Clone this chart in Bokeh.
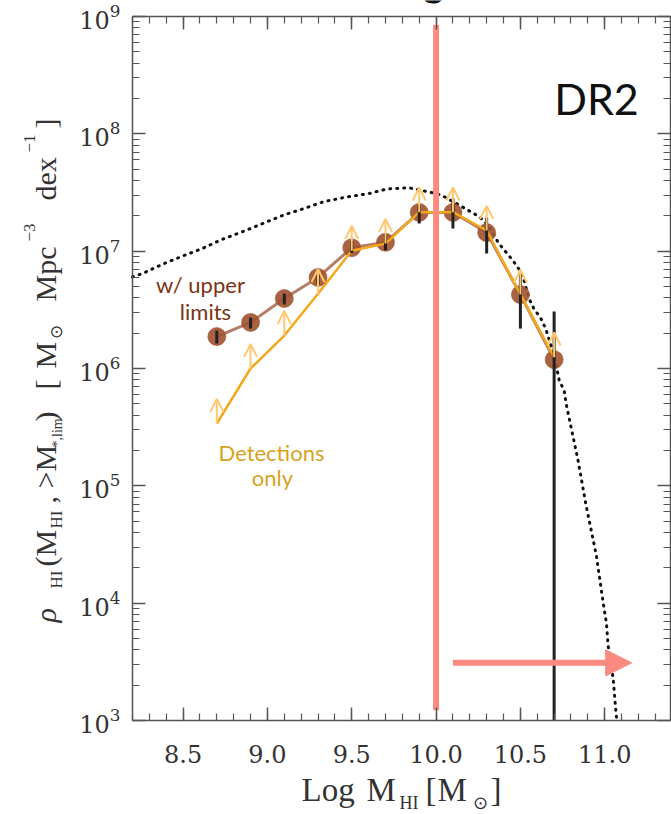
import numpy as np
from bokeh.plotting import figure
from bokeh.models import (LinearAxis, LogAxis, SingleIntervalTicker, LogTicker,
                          PrintfTickFormatter, CustomJSTickFormatter, Arrow, OpenHead,
                          NormalHead, Label, ColumnDataSource, Range1d)
from bokeh.embed import file_html
from bokeh.resources import INLINE

# ---- data -------------------------------------------------------------
# HI mass bins, log M_HI [M_sun]
log_mhi = [8.7, 8.9, 9.1, 9.3, 9.5, 9.7, 9.9, 10.1, 10.3, 10.5, 10.7]

# HI density including upper limits, with error range
rho_all = [1.87e6, 2.47e6, 3.95e6, 5.97e6, 1.07e7, 1.19e7, 2.14e7, 2.14e7, 1.44e7, 4.27e6, 1.19e6]
rho_all_lo = [1.63e6, 2.19e6, 3.51e6, 5.20e6, 9.66e6, 1.02e7, 1.72e7, 1.56e7, 9.55e6, 2.19e6, 1.0e3]
rho_all_hi = [2.11e6, 2.72e6, 4.35e6, 6.71e6, 1.22e7, 1.40e7, 2.45e7, 2.81e7, 1.94e7, 6.33e6, 3.06e6]

# HI density from detections only (lower limits)
rho_det = [3.4e5, 1.0e6, 1.91e6, 4.33e6, 1.01e7, 1.16e7, 2.15e7, 2.15e7, 1.50e7, 4.28e6, 1.25e6]

# reference HI mass function model (dotted curve)
model_x = [8.20, 8.26, 8.38, 8.50, 8.61, 8.73, 8.86, 8.98, 9.10, 9.21, 9.33, 9.46,
           9.60, 9.71, 9.84, 9.97, 10.03, 10.09, 10.14, 10.20, 10.26, 10.31, 10.37,
           10.41, 10.45, 10.49, 10.52, 10.55, 10.58, 10.62, 10.65, 10.70, 10.73,
           10.76, 10.77, 10.79, 10.84, 10.89, 10.95, 10.99, 11.01, 11.02, 11.05,
           11.06, 11.07]
model_logy = [6.78, 6.81, 6.89, 6.96, 7.02, 7.10, 7.17, 7.24, 7.31, 7.36, 7.42, 7.46,
              7.49, 7.53, 7.54, 7.50, 7.48, 7.43, 7.39, 7.34, 7.29, 7.22, 7.07,
              7.00, 6.93, 6.85, 6.76, 6.60, 6.51, 6.43, 6.34, 6.11, 5.90,
              5.81, 5.71, 5.57, 5.23, 4.83, 4.41, 4.01, 3.83, 3.64, 3.36,
              3.18, 3.02]
model_y = [10 ** v for v in model_logy]

# mass threshold marker and range arrow
mass_cut = 10.0
cut_span = [1.22e3, 8.5e8]
range_arrow_x = [10.1, 11.16]
range_arrow_y = 3.1e3

# axis extents
x_lim = (8.2, 11.39)
y_lim = (1e3, 1e9)
x_ticks_label_fmt = "%.1f"

# ---- layout -------------------------------------------------------------
W, H = 671, 814
BOX_L, BOX_R, BOX_T, BOX_B = 132, 670, 16, 720   # axes box in pixels

# the data ranges span the whole canvas; the axes are pinned to the box edges
kx = (BOX_R - BOX_L) / (x_lim[1] - x_lim[0])
ky = (BOX_B - BOX_T) / (np.log10(y_lim[1]) - np.log10(y_lim[0]))
x_full = (x_lim[0] - BOX_L / kx, x_lim[1] + (W - BOX_R) / kx)
y_full = (10 ** (np.log10(y_lim[0]) - (H - BOX_B) / ky),
          10 ** (np.log10(y_lim[1]) + BOX_T / ky))

AX = "#555555"
BROWN = "#A0522D"
BROWN_LINE = "#B57E66"
GOLD = "#F4A81C"
GOLD_LIGHT = "#FFC870"
SALMON = "#FA8A80"
SERIF = "Liberation Serif"
TICK_FONT = "DejaVu Serif"

p = figure(width=W, height=H, x_range=Range1d(*x_full), y_range=Range1d(*y_full),
           y_axis_type="log", x_axis_location=None, y_axis_location=None,
           output_backend="svg", toolbar_location=None,
           min_border=0, min_border_left=0, min_border_right=0,
           min_border_top=0, min_border_bottom=0,
           background_fill_color="white", border_fill_color="white",
           outline_line_color=None)
p.grid.visible = False


def style_axis(ax, labels=True):
    ax.axis_line_color = AX
    ax.axis_line_width = 1.5
    ax.major_tick_line_color = AX
    ax.minor_tick_line_color = AX
    ax.major_tick_line_width = 1.5
    ax.minor_tick_line_width = 1.2
    ax.major_tick_in = 13
    ax.major_tick_out = 0
    ax.minor_tick_in = 7
    ax.minor_tick_out = 0
    if labels:
        ax.major_label_text_font = TICK_FONT
        ax.major_label_text_font_size = "24px"
        ax.major_label_text_color = "#333333"
    else:
        # mirrored tick axes carry no labels
        ax.formatter = CustomJSTickFormatter(code="return ''")
        ax.major_label_standoff = 0


xa = LinearAxis(ticker=SingleIntervalTicker(interval=0.5, num_minor_ticks=5),
                formatter=PrintfTickFormatter(format=x_ticks_label_fmt),
                fixed_location=y_lim[0], bounds=x_lim)
style_axis(xa)
xa.major_label_standoff = 24
p.add_layout(xa, "below")

ya = LogAxis(ticker=LogTicker(num_minor_ticks=10), fixed_location=x_lim[0], bounds=y_lim)
style_axis(ya)
ya.major_label_standoff = 12
p.add_layout(ya, "left")

top = LinearAxis(ticker=SingleIntervalTicker(interval=0.5, num_minor_ticks=5),
                 fixed_location=y_lim[1], bounds=x_lim)
style_axis(top, labels=False)
p.add_layout(top, "above")

right = LogAxis(ticker=LogTicker(num_minor_ticks=10), fixed_location=x_lim[1], bounds=y_lim)
style_axis(right, labels=False)
p.add_layout(right, "right")

# ---- glyphs -------------------------------------------------------------
p.line(model_x, model_y, line_color="#111111", line_width=3,
       line_dash="1 6", line_cap="round")

p.line(log_mhi, rho_all, line_color=BROWN_LINE, line_width=3)
p.scatter(log_mhi, rho_all, size=18, fill_color=BROWN, line_color=BROWN,
          fill_alpha=0.9, line_alpha=0.6)

p.line(log_mhi, rho_det, line_color=GOLD, line_width=2.5)

ARROW_DEX = 0.21
lim_src = ColumnDataSource(dict(x=log_mhi, y0=rho_det,
                                y1=[v * 10 ** ARROW_DEX for v in rho_det]))
p.add_layout(Arrow(end=OpenHead(size=13, line_color=GOLD_LIGHT, line_width=2),
                   x_start="x", y_start="y0", x_end="x", y_end="y1",
                   source=lim_src, line_color=GOLD_LIGHT, line_width=2))

p.segment(x0=[mass_cut], y0=[cut_span[0]], x1=[mass_cut], y1=[cut_span[1]],
          line_color=SALMON, line_width=6)
p.add_layout(Arrow(end=NormalHead(size=26, fill_color=SALMON, line_color=SALMON),
                   x_start=range_arrow_x[0], y_start=range_arrow_y,
                   x_end=range_arrow_x[1], y_end=range_arrow_y,
                   line_color=SALMON, line_width=6))

p.segment(x0=log_mhi, y0=rho_all_lo, x1=log_mhi, y1=rho_all_hi,
          line_color="#222222", line_width=3)

# ---- text ---------------------------------------------------------------
LIFT = 0.4   # baseline correction, in em


def put(text, X, Y, size, color="#222222", font=SERIF, angle=0.0, align="left",
        style="normal"):
    """Place text with its baseline starting at canvas pixel (X, Y)."""
    if angle:
        X, Y = X - LIFT * size, Y
    else:
        Y = Y - LIFT * size
    p.add_layout(Label(x=X, y=H - Y, x_units="screen", y_units="screen",
                       text=text, text_font=font, text_font_size=f"{size}px",
                       text_color=color, angle=angle, text_align=align,
                       text_baseline="alphabetic", text_font_style=style))


# y-axis label, written bottom-to-top in pieces (main / subscript / superscript)
ROT = np.pi / 2
Y_MAIN, Y_SUB, Y_SUP = 57, 63, 36
SIZES = {"main": 30, "sub": 17, "sup": 17}
ylabel_parts = [
    ("ρ", 622, "main", "italic"), ("HI", 588, "sub", "normal"),
    ("(M", 566, "main", "normal"), ("HI", 528, "sub", "normal"),
    (", >M", 503, "main", "normal"), ("*,lim", 447, "sub", "normal"),
    (")", 421, "main", "normal"), ("[", 389, "main", "normal"),
    ("M", 368, "main", "normal"), ("⊙", 338, "sub", "normal"),
    ("Mpc", 301, "main", "normal"), ("−3", 241, "sup", "normal"),
    ("dex", 200, "main", "normal"), ("−1", 152, "sup", "normal"),
    ("]", 128, "main", "normal"),
]
for txt, ystart, kind, st in ylabel_parts:
    xb = {"main": Y_MAIN, "sub": Y_SUB, "sup": Y_SUP}[kind]
    size = 14 if txt == "*,lim" else SIZES[kind]
    put(txt, xb, ystart, size, color="#333333", angle=ROT, style=st)

# x-axis label
xlabel_parts = [("Log", 301, 803, 33), ("M", 366, 803, 33), ("HI", 399, 810, 18),
                ("[", 425, 803, 33), ("M", 437, 803, 33), ("⊙", 472, 810, 18),
                ("]", 490, 803, 33)]
for txt, X, Y, s in xlabel_parts:
    put(txt, X, Y, s, color="#333333")

# annotations inside the panel
put("w/ upper", 200, 293, 22, color="#7B3413", font="Lato", align="center")
put("limits", 205, 320, 22, color="#7B3413", font="Lato", align="center")
put("Detections", 271, 461, 22, color="#D9A21B", font="Lato", align="center")
put("only", 272, 486, 22, color="#D9A21B", font="Lato", align="center")
put("DR2", 596, 115, 43, color="#111111", font="Lato", align="center")
put("g", 433, -4, 40, color="#111111", font="Lato", align="center", style="bold")

open("out.html", "w").write(file_html(p, INLINE))
